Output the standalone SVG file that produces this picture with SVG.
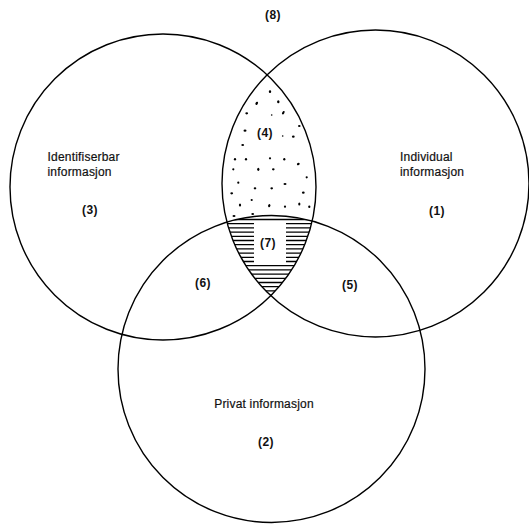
<svg xmlns="http://www.w3.org/2000/svg" width="529" height="524" viewBox="0 0 529 524">
  <style>
    .ring { fill: none; stroke: #000; stroke-width: 1.4; }
    .lbl { font-family: "Liberation Sans", Arial, sans-serif; font-size: 12px; fill: #111; stroke: #111; stroke-width: 0.2; letter-spacing: 0.2px; }
    .num { font-family: "Liberation Sans", Arial, sans-serif; font-size: 12px; font-weight: bold; fill: #111; text-anchor: middle; letter-spacing: 0.4px; }
    .hatch line { stroke: #000; stroke-width: 1.3; }
    .dots ellipse { fill: #000; }
  </style>
  <defs>
    <clipPath id="cL"><circle cx="163" cy="187" r="153"/></clipPath>
    <clipPath id="cR"><circle cx="375.5" cy="183.5" r="153.5"/></clipPath>
    <clipPath id="cB"><circle cx="271.5" cy="369" r="153.5"/></clipPath>
  </defs>
  <rect width="529" height="524" fill="#fff"/>

  <!-- region 7: horizontal hatching inside all three sets -->
  <g clip-path="url(#cL)">
    <g clip-path="url(#cR)">
      <g clip-path="url(#cB)" class="hatch">
        <line x1="215" y1="219.5" x2="325" y2="219.5"/>
        <line x1="215" y1="223.7" x2="325" y2="223.7"/>
        <line x1="215" y1="227.9" x2="325" y2="227.9"/>
        <line x1="215" y1="232.1" x2="325" y2="232.1"/>
        <line x1="215" y1="236.3" x2="325" y2="236.3"/>
        <line x1="215" y1="240.5" x2="325" y2="240.5"/>
        <line x1="215" y1="244.7" x2="325" y2="244.7"/>
        <line x1="215" y1="248.9" x2="325" y2="248.9"/>
        <line x1="215" y1="253.1" x2="325" y2="253.1"/>
        <line x1="215" y1="257.3" x2="325" y2="257.3"/>
        <line x1="215" y1="261.5" x2="325" y2="261.5"/>
        <line x1="215" y1="265.7" x2="325" y2="265.7"/>
        <line x1="215" y1="269.9" x2="325" y2="269.9"/>
        <line x1="215" y1="274.1" x2="325" y2="274.1"/>
        <line x1="215" y1="278.3" x2="325" y2="278.3"/>
        <line x1="215" y1="282.5" x2="325" y2="282.5"/>
        <line x1="215" y1="286.7" x2="325" y2="286.7"/>
        <line x1="215" y1="290.9" x2="325" y2="290.9"/>
        <line x1="215" y1="295.1" x2="325" y2="295.1"/>
        <!-- clear box for the (7) label -->
        <rect x="254" y="222" width="32" height="42" fill="#fff"/>
      </g>
    </g>
  </g>

  <!-- region 4: stipple -->
  <g class="dots">
    <ellipse cx="270" cy="91.7" rx="1.2" ry="1.4"/>
    <ellipse cx="256.7" cy="103.3" rx="1.2" ry="1.7" transform="rotate(30 256.7 103.3)"/>
    <ellipse cx="278.3" cy="101.7" rx="1.2" ry="1.5"/>
    <ellipse cx="246.7" cy="113.3" rx="1.4" ry="1.1"/>
    <ellipse cx="271.7" cy="115" rx="0.8" ry="0.8"/>
    <ellipse cx="283.3" cy="112.7" rx="1.1" ry="1.9" transform="rotate(30 283.3 112.7)"/>
    <ellipse cx="299.3" cy="126" rx="1.3" ry="1.1"/>
    <ellipse cx="245" cy="130.7" rx="1.5" ry="1.1"/>
    <ellipse cx="282.7" cy="136" rx="0.8" ry="0.8"/>
    <ellipse cx="293.3" cy="136.7" rx="1.4" ry="1.1"/>
    <ellipse cx="242.7" cy="145" rx="1.4" ry="1.1"/>
    <ellipse cx="235" cy="159.3" rx="1.1" ry="1.3"/>
    <ellipse cx="246" cy="159.3" rx="1.1" ry="1.3"/>
    <ellipse cx="270" cy="158.3" rx="1.1" ry="1.1"/>
    <ellipse cx="284.3" cy="159.3" rx="1.1" ry="1.3"/>
    <ellipse cx="298.3" cy="164" rx="1.5" ry="1.1" transform="rotate(-30 298.3 164)"/>
    <ellipse cx="233.3" cy="169.3" rx="1.1" ry="1.1"/>
    <ellipse cx="258.3" cy="169.3" rx="1.1" ry="1.6"/>
    <ellipse cx="273.3" cy="169.3" rx="1.3" ry="1.1"/>
    <ellipse cx="306.7" cy="177.3" rx="1.1" ry="1.1"/>
    <ellipse cx="238.3" cy="182.7" rx="1.1" ry="1.1"/>
    <ellipse cx="285" cy="184" rx="1.5" ry="1.1"/>
    <ellipse cx="255" cy="188.3" rx="1.3" ry="1.1"/>
    <ellipse cx="271.7" cy="188.3" rx="1.3" ry="1.1"/>
    <ellipse cx="231.7" cy="193.3" rx="1.4" ry="1.1"/>
    <ellipse cx="303.3" cy="192.7" rx="1.4" ry="1.1"/>
    <ellipse cx="251.7" cy="200" rx="1.1" ry="1.1"/>
    <ellipse cx="240" cy="205" rx="1.1" ry="1.6"/>
    <ellipse cx="269.3" cy="205.7" rx="1.1" ry="1.6" transform="rotate(20 269.3 205.7)"/>
    <ellipse cx="285" cy="206.7" rx="1.1" ry="1.1"/>
    <ellipse cx="299.3" cy="204" rx="1.1" ry="1.5"/>
    <ellipse cx="309.3" cy="206.7" rx="1.1" ry="1.3"/>
    <ellipse cx="234" cy="216" rx="1.5" ry="1.1"/>
    <ellipse cx="252.7" cy="214" rx="1.4" ry="1.1"/>
  </g>

  <!-- the three sets -->
  <g id="set-identifiserbar">
    <circle class="ring" cx="163" cy="187" r="153"/>
    <text class="lbl" x="47.5" y="161">Identifiserbar</text>
    <text class="lbl" x="47.5" y="176">informasjon</text>
    <text class="num" x="90" y="214">(3)</text>
  </g>
  <g id="set-individual">
    <circle class="ring" cx="375.5" cy="183.5" r="153.5"/>
    <text class="lbl" x="400" y="161">Individual</text>
    <text class="lbl" x="400" y="176">informasjon</text>
    <text class="num" x="437" y="215">(1)</text>
  </g>
  <g id="set-privat">
    <circle class="ring" cx="271.5" cy="369" r="153.5"/>
    <text class="lbl" x="264" y="408" text-anchor="middle">Privat informasjon</text>
    <text class="num" x="266" y="446">(2)</text>
  </g>

  <!-- overlap and outside labels -->
  <g id="region-labels">
    <text class="num" x="273" y="19">(8)</text>
    <text class="num" x="265" y="137">(4)</text>
    <text class="num" x="268" y="247">(7)</text>
    <text class="num" x="203" y="287">(6)</text>
    <text class="num" x="350" y="289">(5)</text>
  </g>
</svg>
